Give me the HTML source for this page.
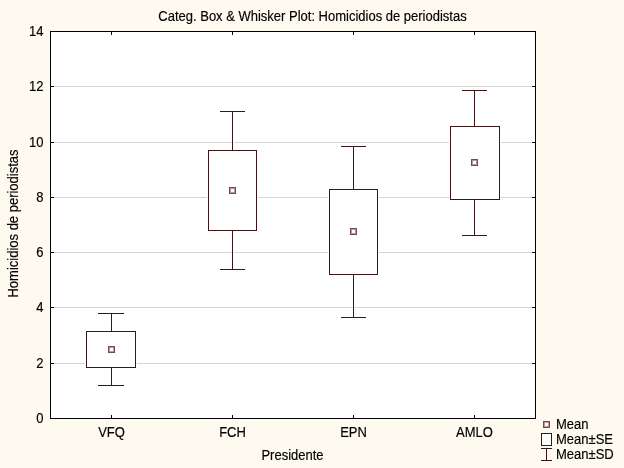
<!DOCTYPE html>
<html><head><meta charset="utf-8"><style>
html,body{margin:0;padding:0;background:#fffaef;width:624px;height:468px;overflow:hidden}
</style></head><body>
<svg width="624" height="468" viewBox="0 0 624 468" style="display:block;will-change:transform"><rect x="0" y="0" width="624" height="468" fill="#fffaef"/><rect x="50" y="31" width="486" height="388" fill="#ffffff"/><line x1="51" y1="363.5" x2="535" y2="363.5" stroke="#d6d6d6" stroke-width="1"/><line x1="51" y1="307.5" x2="535" y2="307.5" stroke="#d6d6d6" stroke-width="1"/><line x1="51" y1="252.5" x2="535" y2="252.5" stroke="#d6d6d6" stroke-width="1"/><line x1="51" y1="197.5" x2="535" y2="197.5" stroke="#d6d6d6" stroke-width="1"/><line x1="51" y1="142.5" x2="535" y2="142.5" stroke="#d6d6d6" stroke-width="1"/><line x1="51" y1="86.5" x2="535" y2="86.5" stroke="#d6d6d6" stroke-width="1"/><rect x="50.5" y="31.5" width="485" height="387" fill="none" stroke="#000" stroke-width="1"/><line x1="51" y1="363.5" x2="54" y2="363.5" stroke="#000" stroke-width="1"/><line x1="535" y1="363.5" x2="532" y2="363.5" stroke="#000" stroke-width="1"/><line x1="51" y1="307.5" x2="54" y2="307.5" stroke="#000" stroke-width="1"/><line x1="535" y1="307.5" x2="532" y2="307.5" stroke="#000" stroke-width="1"/><line x1="51" y1="252.5" x2="54" y2="252.5" stroke="#000" stroke-width="1"/><line x1="535" y1="252.5" x2="532" y2="252.5" stroke="#000" stroke-width="1"/><line x1="51" y1="197.5" x2="54" y2="197.5" stroke="#000" stroke-width="1"/><line x1="535" y1="197.5" x2="532" y2="197.5" stroke="#000" stroke-width="1"/><line x1="51" y1="142.5" x2="54" y2="142.5" stroke="#000" stroke-width="1"/><line x1="535" y1="142.5" x2="532" y2="142.5" stroke="#000" stroke-width="1"/><line x1="51" y1="86.5" x2="54" y2="86.5" stroke="#000" stroke-width="1"/><line x1="535" y1="86.5" x2="532" y2="86.5" stroke="#000" stroke-width="1"/><line x1="111.5" y1="32" x2="111.5" y2="35" stroke="#000" stroke-width="1"/><line x1="111.5" y1="418" x2="111.5" y2="415" stroke="#000" stroke-width="1"/><line x1="232.5" y1="32" x2="232.5" y2="35" stroke="#000" stroke-width="1"/><line x1="232.5" y1="418" x2="232.5" y2="415" stroke="#000" stroke-width="1"/><line x1="353.5" y1="32" x2="353.5" y2="35" stroke="#000" stroke-width="1"/><line x1="353.5" y1="418" x2="353.5" y2="415" stroke="#000" stroke-width="1"/><line x1="474.5" y1="32" x2="474.5" y2="35" stroke="#000" stroke-width="1"/><line x1="474.5" y1="418" x2="474.5" y2="415" stroke="#000" stroke-width="1"/><rect x="85" y="330" width="52" height="39" fill="#fff"/><g stroke="#fff" stroke-width="2"><line x1="111.5" y1="313" x2="111.5" y2="331"/><line x1="111.5" y1="368" x2="111.5" y2="386"/></g><g stroke="#3a1616" stroke-width="1" fill="none"><line x1="98" y1="313.5" x2="124" y2="313.5"/><line x1="111.5" y1="314" x2="111.5" y2="331"/><rect x="86.5" y="331.5" width="49" height="36" fill="none"/><line x1="111.5" y1="368" x2="111.5" y2="385"/><line x1="98" y1="385.5" x2="124" y2="385.5"/></g><rect x="108.5" y="346.5" width="6" height="6" fill="#fff" stroke="#6f4c54" stroke-width="1"/><rect x="109.5" y="347.5" width="4" height="4" fill="#fff" stroke="#b8959b" stroke-width="1"/><rect x="207" y="149" width="51" height="83" fill="#fff"/><g stroke="#fff" stroke-width="2"><line x1="232.5" y1="111" x2="232.5" y2="150"/><line x1="232.5" y1="231" x2="232.5" y2="270"/></g><g stroke="#3a1616" stroke-width="1" fill="none"><line x1="220" y1="111.5" x2="245" y2="111.5"/><line x1="232.5" y1="112" x2="232.5" y2="150"/><rect x="208.5" y="150.5" width="48" height="80" fill="none"/><line x1="232.5" y1="231" x2="232.5" y2="269"/><line x1="220" y1="269.5" x2="245" y2="269.5"/></g><rect x="229.5" y="187.5" width="6" height="6" fill="#fff" stroke="#6f4c54" stroke-width="1"/><rect x="230.5" y="188.5" width="4" height="4" fill="#fff" stroke="#b8959b" stroke-width="1"/><rect x="328" y="188" width="51" height="88" fill="#fff"/><g stroke="#fff" stroke-width="2"><line x1="353.5" y1="146" x2="353.5" y2="189"/><line x1="353.5" y1="275" x2="353.5" y2="318"/></g><g stroke="#3a1616" stroke-width="1" fill="none"><line x1="341" y1="146.5" x2="366" y2="146.5"/><line x1="353.5" y1="147" x2="353.5" y2="189"/><rect x="329.5" y="189.5" width="48" height="85" fill="none"/><line x1="353.5" y1="275" x2="353.5" y2="317"/><line x1="341" y1="317.5" x2="366" y2="317.5"/></g><rect x="350.5" y="228.5" width="6" height="6" fill="#fff" stroke="#6f4c54" stroke-width="1"/><rect x="351.5" y="229.5" width="4" height="4" fill="#fff" stroke="#b8959b" stroke-width="1"/><rect x="449" y="125" width="52" height="76" fill="#fff"/><g stroke="#fff" stroke-width="2"><line x1="474.5" y1="90" x2="474.5" y2="126"/><line x1="474.5" y1="200" x2="474.5" y2="236"/></g><g stroke="#3a1616" stroke-width="1" fill="none"><line x1="462" y1="90.5" x2="487" y2="90.5"/><line x1="474.5" y1="91" x2="474.5" y2="126"/><rect x="450.5" y="126.5" width="49" height="73" fill="none"/><line x1="474.5" y1="200" x2="474.5" y2="235"/><line x1="462" y1="235.5" x2="487" y2="235.5"/></g><rect x="471.5" y="159.5" width="6" height="6" fill="#fff" stroke="#6f4c54" stroke-width="1"/><rect x="472.5" y="160.5" width="4" height="4" fill="#fff" stroke="#b8959b" stroke-width="1"/><text transform="translate(312.5,20.6) scale(1,1.07)" x="0" y="0" text-anchor="middle" font-family="Liberation Sans, sans-serif" font-size="13" fill="#000000" stroke="#000000" stroke-width="0.15">Categ. Box &amp; Whisker Plot: Homicidios de periodistas</text><text transform="translate(43.5,423) scale(1,1.07)" x="0" y="0" text-anchor="end" font-family="Liberation Sans, sans-serif" font-size="13" fill="#000000" stroke="#000000" stroke-width="0.15">0</text><text transform="translate(43.5,368) scale(1,1.07)" x="0" y="0" text-anchor="end" font-family="Liberation Sans, sans-serif" font-size="13" fill="#000000" stroke="#000000" stroke-width="0.15">2</text><text transform="translate(43.5,312) scale(1,1.07)" x="0" y="0" text-anchor="end" font-family="Liberation Sans, sans-serif" font-size="13" fill="#000000" stroke="#000000" stroke-width="0.15">4</text><text transform="translate(43.5,257) scale(1,1.07)" x="0" y="0" text-anchor="end" font-family="Liberation Sans, sans-serif" font-size="13" fill="#000000" stroke="#000000" stroke-width="0.15">6</text><text transform="translate(43.5,202) scale(1,1.07)" x="0" y="0" text-anchor="end" font-family="Liberation Sans, sans-serif" font-size="13" fill="#000000" stroke="#000000" stroke-width="0.15">8</text><text transform="translate(43.5,147) scale(1,1.07)" x="0" y="0" text-anchor="end" font-family="Liberation Sans, sans-serif" font-size="13" fill="#000000" stroke="#000000" stroke-width="0.15">10</text><text transform="translate(43.5,91) scale(1,1.07)" x="0" y="0" text-anchor="end" font-family="Liberation Sans, sans-serif" font-size="13" fill="#000000" stroke="#000000" stroke-width="0.15">12</text><text transform="translate(43.5,36) scale(1,1.07)" x="0" y="0" text-anchor="end" font-family="Liberation Sans, sans-serif" font-size="13" fill="#000000" stroke="#000000" stroke-width="0.15">14</text><text transform="translate(111.5,436.6) scale(1,1.07)" x="0" y="0" text-anchor="middle" font-family="Liberation Sans, sans-serif" font-size="13" fill="#000000" stroke="#000000" stroke-width="0.15">VFQ</text><text transform="translate(232.5,436.6) scale(1,1.07)" x="0" y="0" text-anchor="middle" font-family="Liberation Sans, sans-serif" font-size="13" fill="#000000" stroke="#000000" stroke-width="0.15">FCH</text><text transform="translate(353.5,436.6) scale(1,1.07)" x="0" y="0" text-anchor="middle" font-family="Liberation Sans, sans-serif" font-size="13" fill="#000000" stroke="#000000" stroke-width="0.15">EPN</text><text transform="translate(474.5,436.6) scale(1,1.07)" x="0" y="0" text-anchor="middle" font-family="Liberation Sans, sans-serif" font-size="13" fill="#000000" stroke="#000000" stroke-width="0.15">AMLO</text><text transform="translate(292.5,460) scale(1,1.07)" x="0" y="0" text-anchor="middle" font-family="Liberation Sans, sans-serif" font-size="13" fill="#000000" stroke="#000000" stroke-width="0.15">Presidente</text><text transform="translate(18,223.5) rotate(-90) scale(1,1.07)" x="0" y="0" text-anchor="middle" font-family="Liberation Sans, sans-serif" font-size="13" fill="#000000" stroke="#000000" stroke-width="0.15">Homicidios de periodistas</text><rect x="543.5" y="421.5" width="6" height="6" fill="#fff" stroke="#6f4c54" stroke-width="1"/><rect x="544.5" y="422.5" width="4" height="4" fill="#fff" stroke="#b8959b" stroke-width="1"/><text transform="translate(556,428.8) scale(1,1.07)" x="0" y="0" text-anchor="start" font-family="Liberation Sans, sans-serif" font-size="13" fill="#000000" stroke="#000000" stroke-width="0.15">Mean</text><rect x="541.5" y="433.5" width="10" height="12" fill="#fff" stroke="#3a1616" stroke-width="1"/><text transform="translate(556,443.9) scale(1,1.07)" x="0" y="0" text-anchor="start" font-family="Liberation Sans, sans-serif" font-size="13" fill="#000000" stroke="#000000" stroke-width="0.15">Mean&#177;SE</text><g stroke="#3a1616" stroke-width="1"><line x1="541" y1="448.5" x2="552" y2="448.5"/><line x1="546.5" y1="449" x2="546.5" y2="460"/><line x1="541" y1="460.5" x2="552" y2="460.5"/></g><text transform="translate(556,458.9) scale(1,1.07)" x="0" y="0" text-anchor="start" font-family="Liberation Sans, sans-serif" font-size="13" fill="#000000" stroke="#000000" stroke-width="0.15">Mean&#177;SD</text></svg>
</body></html>
